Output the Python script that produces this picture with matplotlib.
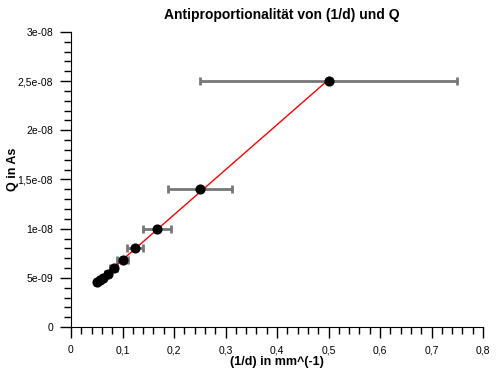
import numpy as np
from matplotlib import pyplot as plt
from matplotlib.ticker import MultipleLocator, FuncFormatter

plt.rcParams["font.family"] = ["Liberation Sans", "DejaVu Sans"]

# 1/d in mm^-1 and Q in As
inv_d = np.array([0.5, 0.25, 1/6, 0.125, 0.1, 1/12, 1/14, 0.0625, 1/18, 0.05])
q = np.array([2.5e-8, 1.4e-8, 1.0e-8, 8.0e-9, 6.8e-9, 6.0e-9, 5.4e-9, 5.0e-9, 4.8e-9, 4.6e-9])
x_err = np.array([0.25, 0.0625, 0.0278, 0.0156, 0.01, 0.0069, 0.0051, 0.0039, 0.0031, 0.0025])

fig = plt.figure(figsize=(4.96, 3.73), dpi=100)
ax = fig.add_axes([71/496, 46/373, 412/496, 295/373])

ax.errorbar(inv_d, q, xerr=x_err, fmt="none", ecolor="#777777", elinewidth=2, capsize=3, capthick=2, zorder=2)

k, b = np.polyfit(inv_d, q, 1) # linear fit
xs = np.array([inv_d.min(), inv_d.max()])
ax.plot(xs, k*xs + b, color="red", linewidth=1, zorder=3)
ax.plot(inv_d, q, "o", color="black", markersize=6.3, zorder=4)

ax.set_xlim(0, 0.8)
ax.set_ylim(0, 3e-8)
ax.spines["top"].set_visible(False)
ax.spines["right"].set_visible(False)
ax.xaxis.set_major_locator(MultipleLocator(0.1))
ax.xaxis.set_minor_locator(MultipleLocator(0.02))
ax.yaxis.set_major_locator(MultipleLocator(5e-9))
ax.yaxis.set_minor_locator(MultipleLocator(1e-9))

def xfmt(v, pos):
    return ("%g" % round(v, 2)).replace(".", ",")

def yfmt(v, pos):
    if abs(v) < 1e-15:
        return "0"
    m, e = ("%e" % v).split("e")
    m = ("%g" % float(m)).replace(".", ",")
    return "%se-%02d" % (m, abs(int(e)))

ax.xaxis.set_major_formatter(FuncFormatter(xfmt))
ax.yaxis.set_major_formatter(FuncFormatter(yfmt))
ax.tick_params(which="major", direction="out", length=8, width=1, labelsize=7.5, pad=5)
ax.tick_params(which="minor", direction="out", length=5, width=1)

ax.set_xlabel("(1/d) in mm^(-1)", fontsize=9, fontweight="bold", labelpad=1)
ax.set_ylabel("Q in As", fontsize=9, fontweight="bold")
ax.yaxis.set_label_coords(-0.126, 0.535)
ax.set_title("Antiproportionalität von (1/d) und Q", fontsize=10, fontweight="bold", pad=9, x=0.512)

fig.savefig("out.png", dpi=100)
